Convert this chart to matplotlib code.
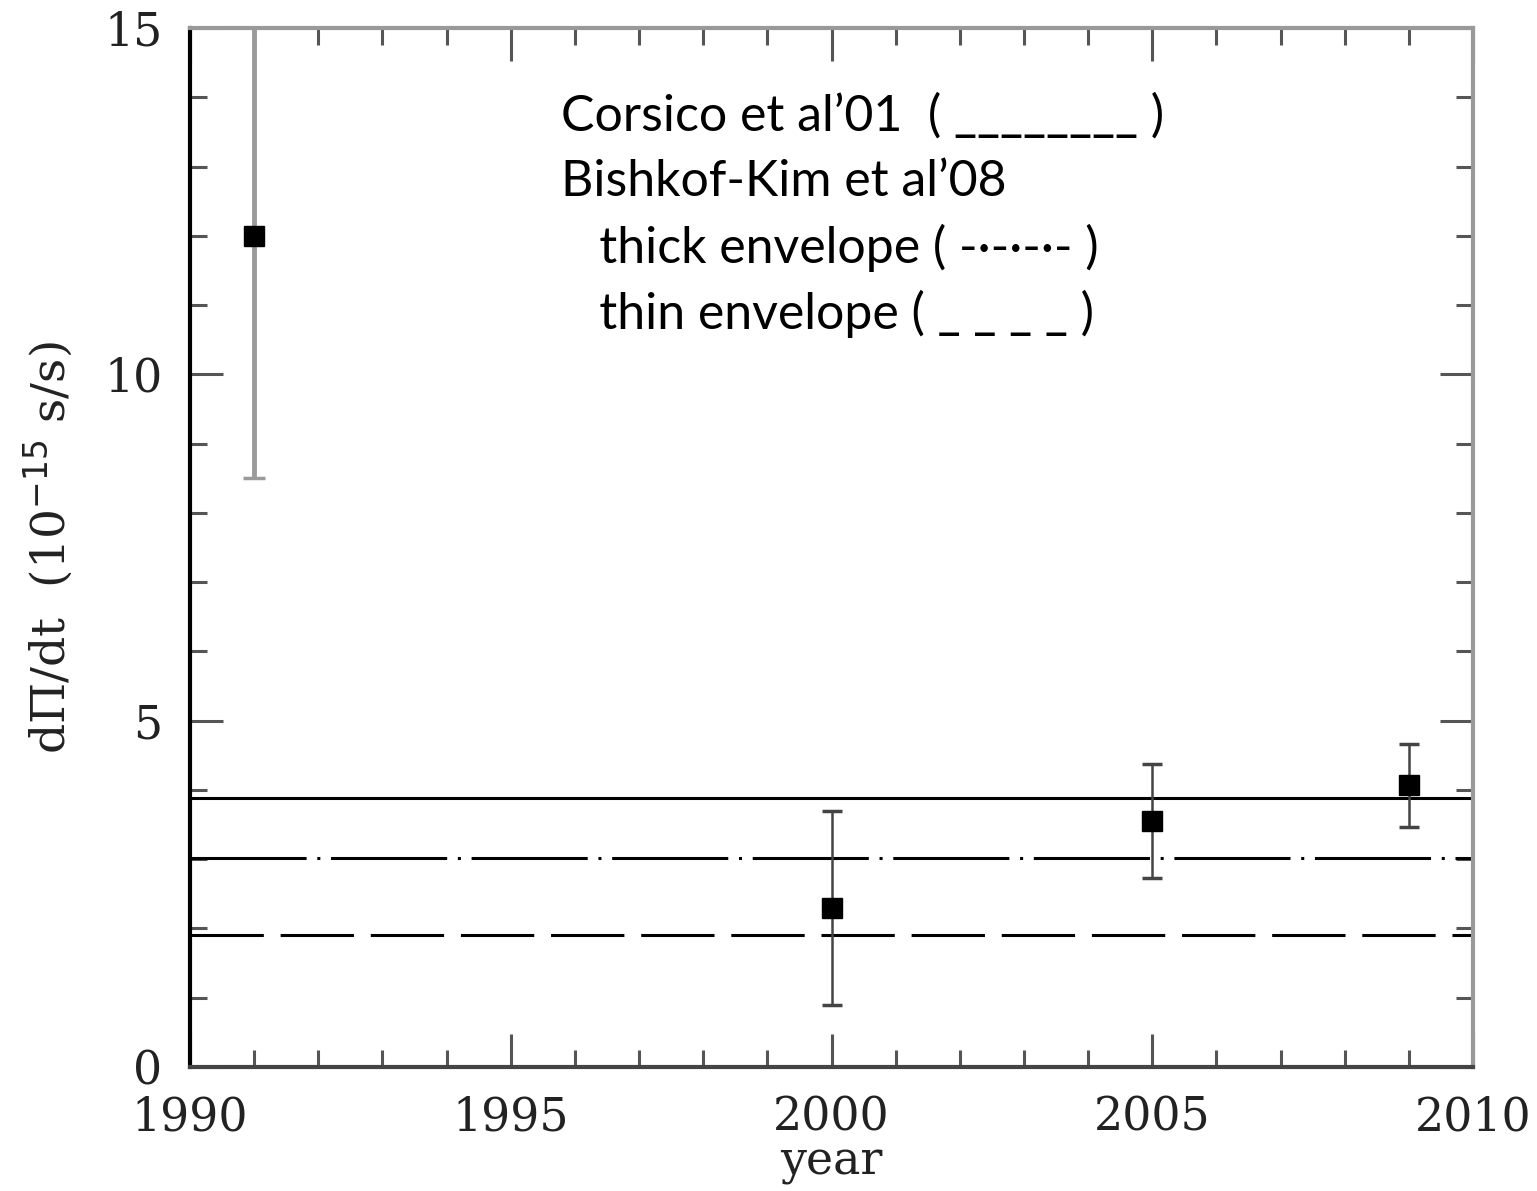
import matplotlib
matplotlib.use("Agg")
import matplotlib.pyplot as plt
from matplotlib.ticker import MultipleLocator

# measured period derivative
years = [1991, 2000, 2005, 2009]
dpdt = [12.0, 2.3, 3.55, 4.07]
err_lo = [3.5, 1.4, 0.82, 0.6]
err_hi = [3.5, 1.4, 0.82, 0.6]

# model predictions (horizontal lines)
corsico = 3.88
thick_env = 3.02
thin_env = 1.91

legend_lines = [
    "Corsico et al\u201901  ( ________ )",
    "Bishkof-Kim et al\u201908",
    "   thick envelope ( -\u00b7-\u00b7-\u00b7- )",
    "   thin envelope ( _ _ _ _ )",
]

SERIF = ["DejaVu Serif"]
TICK_GREY = "#555555"

fig = plt.figure(figsize=(15.37, 11.91), dpi=100)
ax = fig.add_axes([0.1236, 0.1041, 0.8348, 0.8724])

ax.set_xlim(1990, 2010)
ax.set_ylim(0, 15)

ax.axhline(corsico, color="black", lw=2.2, zorder=2)
ax.axhline(thick_env, color="black", lw=2.2, dashes=(38, 3.5, 1, 3.5), zorder=2)
ax.axhline(thin_env, color="black", lw=2.2, dashes=(24, 5.5), zorder=2)

# first point has a lighter, thicker bar
ax.errorbar(years[:1], dpdt[:1], yerr=[err_lo[:1], err_hi[:1]], fmt="none",
            ecolor="#9a9a9a", elinewidth=3.5, capsize=8, capthick=2.5, zorder=3)
ax.errorbar(years[1:], dpdt[1:], yerr=[err_lo[1:], err_hi[1:]], fmt="none",
            ecolor="#444444", elinewidth=1.8, capsize=7, capthick=2.5, zorder=3)
ax.plot(years, dpdt, "s", color="black", ms=15, zorder=4)

ax.xaxis.set_major_locator(MultipleLocator(5))
ax.xaxis.set_minor_locator(MultipleLocator(1))
ax.yaxis.set_major_locator(MultipleLocator(5))
ax.yaxis.set_minor_locator(MultipleLocator(1))
ax.tick_params(which="both", direction="in", top=True, right=True,
               color=TICK_GREY, width=2.2)
ax.tick_params(which="major", length=24, labelsize=33, labelcolor="#222222")
ax.tick_params(axis="x", which="major", pad=20)
ax.tick_params(axis="y", which="major", pad=20)
ax.tick_params(which="minor", length=12)
for lab in ax.get_xticklabels() + ax.get_yticklabels():
    lab.set_family(SERIF)

ax.spines["left"].set_color("black")
ax.spines["bottom"].set_color("#444444")
ax.spines["top"].set_color("#999999")
ax.spines["right"].set_color("#999999")
for s in ax.spines.values():
    s.set_linewidth(3)

ax.set_xlabel("year", family=SERIF, fontsize=33, color="#222222", labelpad=0)
ax.set_ylabel("d\u03a0/dt  (10$^{-15}$ s/s)", family=SERIF, fontsize=34,
              color="#222222", labelpad=20)

y0 = 0.915
for i, line in enumerate(legend_lines):
    ax.text(0.2892, y0 - i * 0.0635, line, transform=ax.transAxes,
            fontsize=36, family=["Lato", "DejaVu Sans"], va="center", ha="left")

fig.savefig("out.png", dpi=100)
